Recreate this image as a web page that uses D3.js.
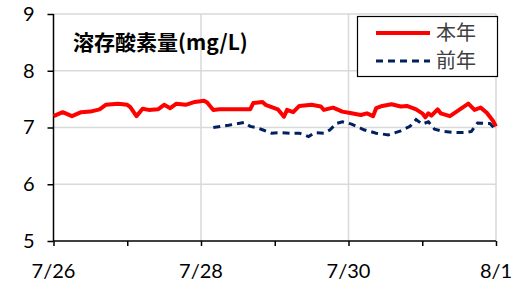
<!DOCTYPE html>
<html>
<head>
<meta charset="utf-8">
<script src="https://cdn.jsdelivr.net/npm/d3@7"></script>
<style>
  body { margin: 0; background: #fff; }
  svg text { font-family: Lato, "Noto Sans CJK JP", sans-serif; }
</style>
</head>
<body>
<script>
// 溶存酸素量 chart: this year vs last year

var width = 526, height = 287;
var margin = {top: 14, right: 30, bottom: 46, left: 53.5};

// data (hours from 7/26 00:00, mg/L)
var curHours = [0, 3, 6, 9, 12, 15, 17, 21, 24, 25, 27, 29, 31, 34, 36, 38, 40, 43, 46, 49, 50, 52,
  54, 64, 65, 68, 69, 71, 73, 75, 76, 78, 80, 84, 87, 88, 91, 94, 97, 100, 102, 104, 105, 107,
  110, 113, 115, 118, 120, 121, 122, 123, 125, 126, 129, 132, 135, 137, 139, 141, 143, 144];
var curDO = [7.20, 7.27, 7.20, 7.27, 7.28, 7.32, 7.40, 7.42, 7.40, 7.36, 7.20, 7.33, 7.31, 7.32, 7.40, 7.34, 7.42, 7.40, 7.45, 7.47, 7.44, 7.31,
  7.32, 7.32, 7.43, 7.45, 7.40, 7.36, 7.32, 7.19, 7.31, 7.27, 7.38, 7.40, 7.37, 7.31, 7.35, 7.28, 7.25, 7.22, 7.25, 7.20, 7.34, 7.38,
  7.41, 7.37, 7.38, 7.32, 7.25, 7.18, 7.25, 7.21, 7.32, 7.25, 7.20, 7.31, 7.42, 7.31, 7.35, 7.26, 7.12, 7.02];

var prevHours = [52, 57, 62, 64, 66, 68, 71, 74, 77, 80, 83, 85, 88, 90, 92, 94, 97, 101, 105, 109,
  113, 116, 118, 120, 122, 124, 127, 131, 134, 136, 138, 142, 144];
var prevDO = [7.00, 7.04, 7.09, 7.02, 7.00, 6.96, 6.90, 6.91, 6.90, 6.90, 6.84, 6.91, 6.90, 6.96, 7.07, 7.10, 7.06, 6.96, 6.90, 6.87,
  6.94, 7.02, 7.14, 7.06, 7.10, 6.97, 6.93, 6.91, 6.91, 6.93, 7.08, 7.07, 6.96];

var yTicks = [5, 6, 7, 8, 9];
var xTickLabels = ["7/26", "7/28", "7/30", "8/1"];
var seriesNames = ["本年", "前年"];
var title = "溶存酸素量(mg/L)";

var start = new Date(2020, 6, 26);
var parseMD = function(s) { var p = s.split("/"); return new Date(2020, +p[0] - 1, +p[1]); };
var toDate = function(h) { return new Date(start.getTime() + h * 3600e3); };

var cur = curHours.map(function(h, i) { return {t: toDate(h), v: curDO[i]}; });
var prev = prevHours.map(function(h, i) { return {t: toDate(h), v: prevDO[i]}; });

var svg = d3.select("body").append("svg")
    .attr("width", width)
    .attr("height", height);

var x = d3.scaleTime()
    .domain([parseMD(xTickLabels[0]), parseMD(xTickLabels[xTickLabels.length - 1])])
    .range([margin.left, width - margin.right]);

var y = d3.scaleLinear()
    .domain([5, 9])
    .range([height - margin.bottom, margin.top]);

// gridlines
svg.append("g").selectAll("line")
  .data(yTicks.slice(1))
  .enter().append("line")
    .attr("x1", x.range()[0]).attr("x2", x.range()[1])
    .attr("y1", function(d) { return y(d); })
    .attr("y2", function(d) { return y(d); })
    .attr("stroke", "#d9d9d9").attr("stroke-width", 1.5);

svg.append("g").selectAll("line")
  .data(xTickLabels.slice(1).map(parseMD))
  .enter().append("line")
    .attr("x1", function(d) { return x(d); })
    .attr("x2", function(d) { return x(d); })
    .attr("y1", y(9)).attr("y2", y(5))
    .attr("stroke", "#d9d9d9").attr("stroke-width", 1.5);

// axes
var yAxis = svg.append("g")
    .attr("transform", "translate(" + margin.left + ",0)")
    .call(d3.axisLeft(y).tickValues(yTicks).tickFormat(d3.format("d")).tickSize(6).tickPadding(13));

var xAxis = svg.append("g")
    .attr("transform", "translate(0," + y(5) + ")")
    .call(d3.axisBottom(x).ticks(d3.timeDay.every(1)).tickSize(5).tickFormat(""));

xAxis.selectAll(".lbl")
  .data(xTickLabels)
  .enter().append("text")
    .attr("class", "lbl")
    .attr("x", function(d) { return x(parseMD(d)); })
    .attr("y", 37)
    .attr("text-anchor", "middle")
    .attr("fill", "#000")
    .style("font-size", "20px")
    .text(function(d) { return d; });

[yAxis, xAxis].forEach(function(a) {
  a.select(".domain").attr("stroke", "#000").attr("stroke-width", 1.5);
  a.selectAll(".tick line").attr("stroke", "#000").attr("stroke-width", 1.5);
});
yAxis.selectAll(".tick text").attr("fill", "#000").style("font-size", "20px");
yAxis.select(".domain").attr("d", "M0," + y(9) + "V" + y(5));
xAxis.select(".domain").attr("d", "M" + x.range()[0] + ",0H" + x.range()[1]);

// lines
var line = d3.line()
    .x(function(d) { return x(d.t); })
    .y(function(d) { return y(d.v); });

svg.append("path")
    .datum(prev)
    .attr("d", line)
    .attr("fill", "none")
    .attr("stroke", "#002060")
    .attr("stroke-width", 3)
    .attr("stroke-dasharray", "7,5");

svg.append("path")
    .datum(cur)
    .attr("d", line)
    .attr("fill", "none")
    .attr("stroke", "#ff0000")
    .attr("stroke-width", 4)
    .attr("stroke-linejoin", "round");

// title
svg.append("text")
    .attr("x", 73)
    .attr("y", 50)
    .attr("font-weight", "bold")
    .style("font-family", "'Noto Sans CJK JP', sans-serif")
    .style("font-size", "21px")
    .attr("fill", "#000")
    .text(title);

// legend
var legend = svg.append("g");
legend.append("rect")
    .attr("x", 357.5).attr("y", 16.5)
    .attr("width", 140).attr("height", 60)
    .attr("fill", "#fff").attr("stroke", "#000").attr("stroke-width", 1.2);

var legStyles = [
  {color: "#ff0000", w: 4, dash: null},
  {color: "#002060", w: 3, dash: "7,5"}
];
seriesNames.forEach(function(name, i) {
  var ly = 33 + i * 28;
  legend.append("line")
      .attr("x1", 376).attr("x2", 430)
      .attr("y1", ly).attr("y2", ly)
      .attr("stroke", legStyles[i].color)
      .attr("stroke-width", legStyles[i].w)
      .attr("stroke-dasharray", legStyles[i].dash);
  legend.append("text")
      .attr("x", 436).attr("y", ly + 7)
      .style("font-family", "'Noto Sans CJK JP', sans-serif")
      .style("font-size", "20px")
      .attr("fill", "#404040")
      .text(name);
});
</script>
</body>
</html>
